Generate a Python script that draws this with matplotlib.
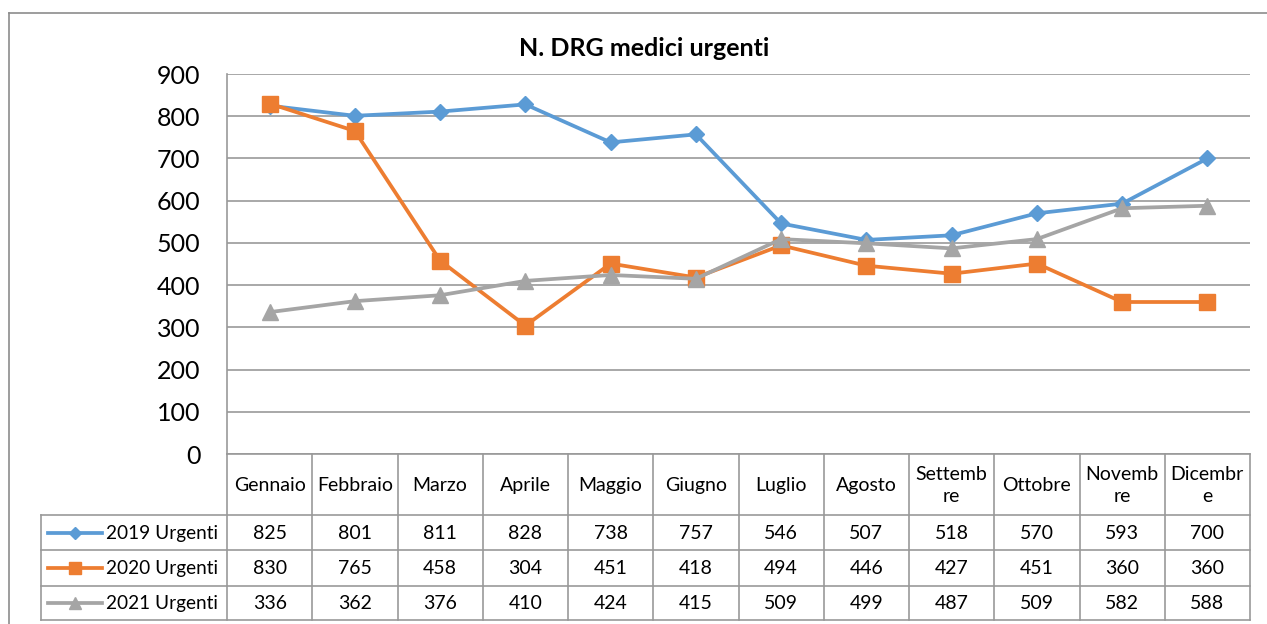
import matplotlib
matplotlib.use("Agg")
import matplotlib.pyplot as plt
from matplotlib.lines import Line2D

plt.rcParams['font.family'] = ['Lato', 'DejaVu Sans']

title = "N. DRG medici urgenti"
months = ["Gennaio", "Febbraio", "Marzo", "Aprile", "Maggio", "Giugno",
          "Luglio", "Agosto", "Settemb\nre", "Ottobre", "Novemb\nre", "Dicembr\ne"]
series_names = ["2019 Urgenti", "2020 Urgenti", "2021 Urgenti"]
v2019 = [825, 801, 811, 828, 738, 757, 546, 507, 518, 570, 593, 700]
v2020 = [830, 765, 458, 304, 451, 418, 494, 446, 427, 451, 360, 360]
v2021 = [336, 362, 376, 410, 424, 415, 509, 499, 487, 509, 582, 588]
yticks = [0, 100, 200, 300, 400, 500, 600, 700, 800, 900]

colors = ["#5B9BD5", "#ED7D31", "#A5A5A5"]
markers = ["D", "s", "^"]
msizes = [7.8, 12, 11]
series = [v2019, v2020, v2021]

W, H = 1267, 624
fig = plt.figure(figsize=(W / 100, H / 100), dpi=100)

# overlay axes in pixel coordinates
ov = fig.add_axes([0, 0, 1, 1])
ov.set_xlim(0, W)
ov.set_ylim(H, 0)
ov.axis("off")

L, R, T, B = 227, 1250, 74, 454
ax = fig.add_axes([L / W, 1 - B / H, (R - L) / W, (B - T) / H])
ax.set_xlim(-0.5, len(months) - 0.5)
ax.set_ylim(0, 900)
ax.set_yticks(yticks)
ax.set_yticklabels([str(t) for t in yticks], fontsize=18)
ax.set_xticks([])
ax.tick_params(axis='y', length=0, pad=19)
ax.grid(axis='y', color='#999999', lw=1.2)
ax.set_axisbelow(True)
for s in ["top", "right", "bottom"]:
    ax.spines[s].set_visible(False)
ax.spines["left"].set_color('#999999')
ax.spines["left"].set_linewidth(1.2)
ax.patch.set_alpha(0)

x = list(range(len(months)))
for vals, c, m, ms in zip(series, colors, markers, msizes):
    ax.plot(x, vals, color=c, lw=2.7, marker=m, markersize=ms,
            markerfacecolor=c, markeredgecolor=c, clip_on=False, zorder=3)

fig.text(644 / W, 1 - 48 / H, title, ha='center', va='center',
         fontsize=18, fontweight='bold')

# outer border
gc = '#999999'
ov.plot([9, 9], [13, H + 5], color='#8c8c8c', lw=1.2)
ov.plot([9, W + 5], [13, 13], color='#8c8c8c', lw=1.2)

# data table
ncol = len(months)
cw = (R - L) / ncol
rows_y = [B, 515, 550, 585.5, 620]
LEG = 41
tl = 1.2
ov.plot([L, R], [rows_y[0], rows_y[0]], color=gc, lw=tl)
for yy in rows_y[1:]:
    ov.plot([LEG, R], [yy, yy], color=gc, lw=tl)
for i in range(ncol + 1):
    xx = L + i * cw
    ov.plot([xx, xx], [rows_y[0], rows_y[-1]], color=gc, lw=tl)
ov.plot([LEG, LEG], [rows_y[1], rows_y[-1]], color=gc, lw=tl)

fs = 14
for i, mname in enumerate(months):
    ov.text(L + (i + 0.5) * cw, (rows_y[0] + rows_y[1]) / 2 + 1, mname,
            ha='center', va='center', fontsize=fs, linespacing=1.4)

for r, (name, vals, c, m, ms) in enumerate(zip(series_names, series, colors, markers, msizes)):
    yc = (rows_y[r + 1] + rows_y[r + 2]) / 2
    ov.add_line(Line2D([48, 102], [yc, yc], color=c, lw=2.7))
    ov.add_line(Line2D([75], [yc], color=c, marker=m, markersize=ms * 0.75,
                       markerfacecolor=c, markeredgecolor=c))
    ov.text(106, yc + 1, name, ha='left', va='center', fontsize=13.7)
    for i, v in enumerate(vals):
        ov.text(L + (i + 0.5) * cw, yc + 1, str(v), ha='center', va='center',
                fontsize=fs)

fig.savefig("out.png", dpi=100)
